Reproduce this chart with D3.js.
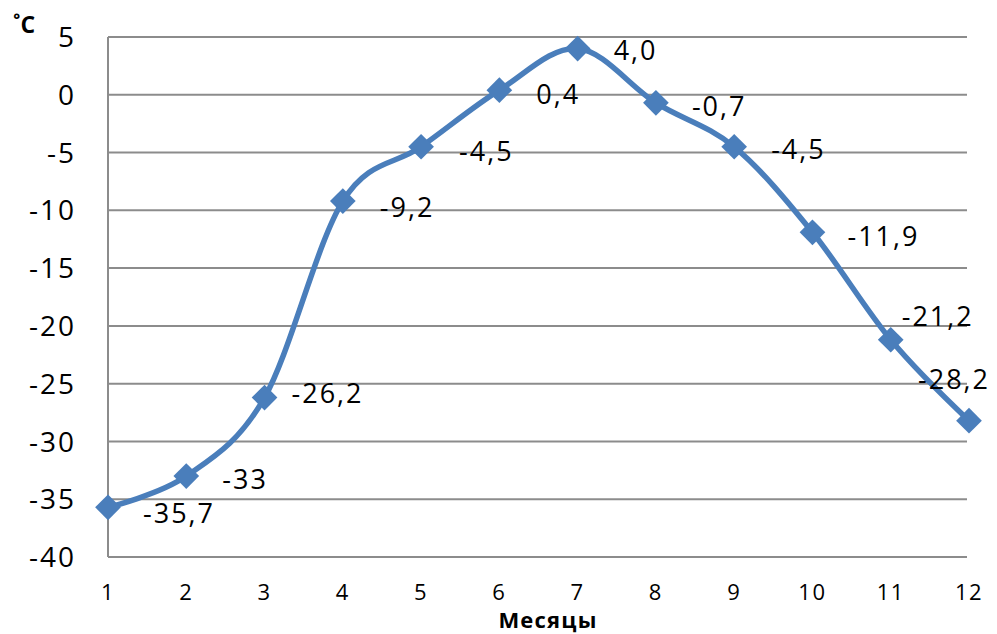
<!DOCTYPE html>
<html><head><meta charset="utf-8">
<script src="https://cdn.jsdelivr.net/npm/d3@7"></script>
<style>body{margin:0;background:#fff}svg{display:block}text{font-family:"Open Sans",sans-serif}</style>
</head><body>
<svg id="c" width="997" height="634"></svg>
<script>
const months = [1,2,3,4,5,6,7,8,9,10,11,12];
const temps = [-35.7,-33,-26.2,-9.2,-4.5,0.4,4.0,-0.7,-4.5,-11.9,-21.2,-28.2];
const labels = ["-35,7","-33","-26,2","-9,2","-4,5","0,4","4,0","-0,7","-4,5","-11,9","-21,2","-28,2"];
const yTicks = [5,0,-5,-10,-15,-20,-25,-30,-35,-40];
const xTitle = "Месяцы";
const yTitle = "˚C";

const svg = d3.select("#c");
const L = 108, R = 969, T = 37, B = 557;
const x = d3.scaleLinear().domain([1,12]).range([L,R]);
const y = d3.scaleLinear().domain([-40,5]).range([B,T]);
const grey = "#8c8c8c";

// gridlines
svg.append("g").selectAll("line").data(yTicks).join("line")
  .attr("x1",L).attr("x2",967).attr("y1",d=>y(d)).attr("y2",d=>y(d))
  .attr("stroke",grey).attr("stroke-width",2);
svg.append("line").attr("x1",L).attr("x2",L).attr("y1",T).attr("y2",B)
  .attr("stroke",grey).attr("stroke-width",2);

// y labels
svg.append("g").selectAll("text").data(yTicks).join("text")
  .attr("x",76).attr("y",d=>y(d)).attr("dy","0.36em").attr("text-anchor","end")
  .attr("font-size",28).attr("letter-spacing","2px").attr("fill","#000").text(d=>d);
// x labels
svg.append("g").selectAll("text").data(months).join("text")
  .attr("x",d=>x(d)).attr("y",592).attr("dy","0.36em").attr("text-anchor","middle")
  .attr("font-size",22).attr("letter-spacing","1.5px").attr("fill","#000").text(d=>d);

svg.append("text").attr("x",548).attr("y",628).attr("text-anchor","middle")
  .attr("font-size",22).attr("letter-spacing","1.2px").attr("font-weight","bold").text(xTitle);
svg.append("text").attr("x",13).attr("y",33)
  .attr("font-size",23).attr("font-weight","bold").text(yTitle);

// line
const pts = months.map((m,i)=>[x(m),y(temps[i])]);
svg.append("path").attr("d",d3.line().curve(d3.curveCardinal.tension(0))(pts))
  .attr("fill","none").attr("stroke","#4a7ebb").attr("stroke-width",5.5).attr("stroke-linejoin","round");

// markers
svg.append("g").selectAll("path").data(pts).join("path")
  .attr("transform",d=>`translate(${d[0]},${d[1]}) rotate(45)`)
  .attr("d",d3.symbol().type(d3.symbolSquare).size(330))
  .attr("fill","#4a7ebb");

// data labels: offset from each point (last two moved by hand in the original)
const ldx = [35,36,27,37,38,37,36,36,37,35,11,-51];
const ldy = [6,3,-4,6,5,4,2,3,3,4,-23,-41];
svg.append("g").selectAll("text").data(labels).join("text")
  .attr("x",(d,i)=>pts[i][0]+ldx[i])
  .attr("y",(d,i)=>pts[i][1]+ldy[i])
  .attr("dy","0.36em").attr("font-size",27).attr("letter-spacing","2px").attr("fill","#000").text(d=>d);
</script>
</body></html>
